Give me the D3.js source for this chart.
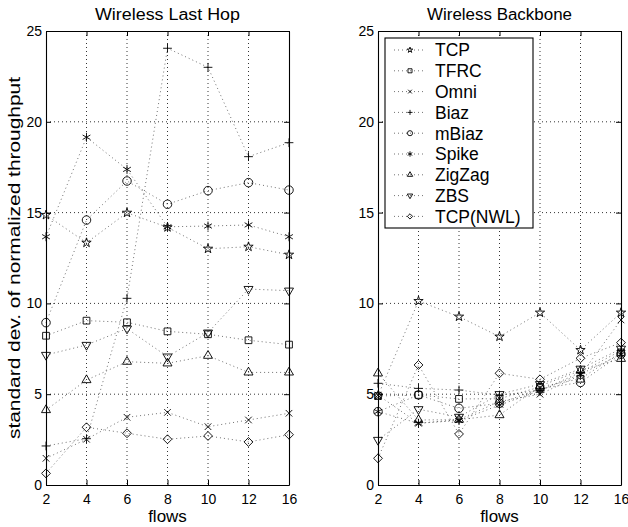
<!DOCTYPE html>
<html>
<head>
<meta charset="utf-8">
<script src="https://cdn.jsdelivr.net/npm/d3@7"></script>
<style>
  html, body { margin: 0; padding: 0; background: #fff; }
  svg { display: block; font-family: "Liberation Sans", Arial, Helvetica, sans-serif; }
</style>
</head>
<body>
<svg id="chart" width="628" height="527"></svg>
<script>
// Number of flows (x categories) and y-axis ticks
const flows = ["2", "4", "6", "8", "10", "12", "16"];
const yTicks = [0, 5, 10, 15, 20, 25];
const seriesNames = ["TCP", "TFRC", "Omni", "Biaz", "mBiaz", "Spike", "ZigZag", "ZBS", "TCP(NWL)"];

// Standard deviation of normalized throughput — wireless last hop
const lastHopTCP    = [14.87, 13.34, 14.99, 14.19, 13.01, 13.12, 12.68];
const lastHopTFRC   = [8.22, 9.05, 8.96, 8.46, 8.30, 7.97, 7.73];
const lastHopOmni   = [1.47, 2.52, 3.73, 4.00, 3.21, 3.58, 3.95];
const lastHopBiaz   = [2.15, 2.55, 10.28, 24.05, 23.00, 18.08, 18.85];
const lastHopMBiaz  = [8.94, 14.59, 16.74, 15.46, 16.21, 16.65, 16.24];
const lastHopSpike  = [13.67, 19.15, 17.38, 14.22, 14.26, 14.32, 13.67];
const lastHopZigZag = [4.13, 5.78, 6.79, 6.70, 7.12, 6.20, 6.20];
const lastHopZBS    = [7.16, 7.71, 8.61, 7.07, 8.39, 10.79, 10.70];
const lastHopNWL    = [0.64, 3.18, 2.85, 2.52, 2.70, 2.37, 2.77];

// Standard deviation of normalized throughput — wireless backbone
const backboneTCP    = [4.92, 10.13, 9.27, 8.17, 9.49, 7.43, 9.49];
const backboneTFRC   = [4.90, 4.96, 4.74, 4.75, 5.40, 5.85, 7.30];
const backboneOmni   = [4.95, 3.40, 3.60, 4.60, 5.00, 6.05, 9.09];
const backboneBiaz   = [5.60, 5.32, 5.23, 4.95, 5.20, 6.20, 7.40];
const backboneMBiaz  = [4.04, 4.96, 4.22, 4.50, 5.30, 5.65, 7.20];
const backboneSpike  = [4.04, 3.40, 3.55, 4.40, 5.20, 6.10, 7.20];
const backboneZigZag = [6.15, 3.58, 3.60, 3.85, 5.45, 6.30, 6.95];
const backboneZBS    = [2.48, 4.17, 3.75, 5.00, 5.55, 6.40, 7.50];
const backboneNWL    = [1.47, 6.61, 2.81, 6.15, 5.82, 6.98, 7.84];

// Marker shape for each series (order matches seriesNames)
const markerShapes = [
  { type: d3.symbolStar,      size: 27, rotate: 0 },
  { type: d3.symbolSquare2,   size: 58, rotate: 0 },
  { type: d3.symbolTimes,     size: 30, rotate: 0 },
  { type: d3.symbolPlus,      size: 27, rotate: 0 },
  { type: d3.symbolCircle,    size: 57, rotate: 0 },
  { type: d3.symbolAsterisk,  size: 56, rotate: 0 },
  { type: d3.symbolTriangle2, size: 58, rotate: 0 },
  { type: d3.symbolTriangle2, size: 58, rotate: 180 },
  { type: d3.symbolDiamond2,  size: 50, rotate: 0 }
];

const panels = [
  {
    title: "Wireless Last Hop", left: 46, right: 289,
    series: [lastHopTCP, lastHopTFRC, lastHopOmni, lastHopBiaz, lastHopMBiaz,
             lastHopSpike, lastHopZigZag, lastHopZBS, lastHopNWL]
  },
  {
    title: "Wireless Backbone", left: 378, right: 621,
    series: [backboneTCP, backboneTFRC, backboneOmni, backboneBiaz, backboneMBiaz,
             backboneSpike, backboneZigZag, backboneZBS, backboneNWL],
    legend: true
  }
];

const plotTop = 31, plotBottom = 485;
const svg = d3.select("#chart");

function markerPath(i, scale) {
  const m = markerShapes[i];
  return d3.symbol().type(m.type).size(m.size * scale * scale)();
}

panels.forEach(p => {
  const x = d3.scalePoint().domain(flows).range([p.left, p.right]).padding(0);
  const y = d3.scaleLinear().domain([0, 25]).range([plotBottom, plotTop]);
  const g = svg.append("g");

  // dotted grid
  const grid = g.append("g").attr("stroke", "#000").attr("stroke-width", 0.8)
    .attr("stroke-dasharray", "1,3");
  grid.selectAll("line.v").data(flows.slice(1, -1)).join("line").attr("class", "v")
    .attr("x1", d => x(d)).attr("x2", d => x(d))
    .attr("y1", plotTop).attr("y2", plotBottom);
  grid.selectAll("line.h").data(yTicks.slice(1, -1)).join("line").attr("class", "h")
    .attr("x1", p.left).attr("x2", p.right)
    .attr("y1", d => y(d)).attr("y2", d => y(d));

  // series lines
  const line = d3.line().x((d, i) => x(flows[i])).y(d => y(d));
  g.append("g").selectAll("path").data(p.series).join("path")
    .attr("d", d => line(d))
    .attr("fill", "none").attr("stroke", "#000").attr("stroke-width", 0.8)
    .attr("stroke-dasharray", "1,3").attr("stroke-opacity", 0.7);

  // markers
  p.series.forEach((vals, si) => {
    const m = markerShapes[si];
    g.append("g").selectAll("path").data(vals).join("path")
      .attr("d", markerPath(si, 1))
      .attr("transform", (d, i) => `translate(${x(flows[i])},${y(d)}) rotate(${m.rotate})`)
      .attr("fill", "none").attr("stroke", "#000").attr("stroke-width", 0.9);
  });

  // axes with inward ticks on all four sides
  const fontTick = 14;
  const axL = g.append("g").attr("transform", `translate(${p.left},0)`)
    .call(d3.axisLeft(y).tickValues(yTicks).tickSizeInner(-5).tickSizeOuter(0).tickPadding(4));
  const axB = g.append("g").attr("transform", `translate(0,${plotBottom})`)
    .call(d3.axisBottom(x).tickSizeInner(-5).tickSizeOuter(0).tickPadding(9));
  g.append("g").attr("transform", `translate(${p.right},0)`)
    .call(d3.axisRight(y).tickValues(yTicks).tickSizeInner(-5).tickSizeOuter(0).tickFormat(""));
  g.append("g").attr("transform", `translate(0,${plotTop})`)
    .call(d3.axisTop(x).tickSizeInner(-5).tickSizeOuter(0).tickFormat(""));
  g.selectAll(".domain").attr("stroke", "#000").attr("stroke-width", 1.1);
  g.selectAll(".tick line").attr("stroke", "#000");
  [axL, axB].forEach(a => a.selectAll("text")
    .attr("font-size", fontTick).attr("fill", "#000")
    .attr("font-family", "Liberation Sans, Arial, sans-serif"));

  // title and x label
  g.append("text").attr("x", (p.left + p.right) / 2).attr("y", 19.5)
    .attr("text-anchor", "middle").attr("font-size", 16)
    .attr("textLength", 145).attr("lengthAdjust", "spacingAndGlyphs")
    .text(p.title);
  g.append("text").attr("x", (p.left + p.right) / 2).attr("y", 521.5)
    .attr("text-anchor", "middle").attr("font-size", 17).text("flows");

  if (p.legend) {
    const lx = 385, ly = 38, lw = 148, lh = 190, row = 20.8;
    const lg = g.append("g");
    lg.append("rect").attr("x", lx).attr("y", ly).attr("width", lw).attr("height", lh)
      .attr("fill", "#fff").attr("stroke", "#000").attr("stroke-width", 1.1);
    const items = lg.selectAll("g.item").data(seriesNames).join("g").attr("class", "item")
      .attr("transform", (d, i) => `translate(0,${ly + 12 + i * row})`);
    items.append("line").attr("x1", lx + 9).attr("x2", lx + 41).attr("y1", 0).attr("y2", 0)
      .attr("stroke", "#000").attr("stroke-width", 0.8).attr("stroke-dasharray", "1,3")
      .attr("stroke-opacity", 0.7);
    items.append("path")
      .attr("d", (d, i) => markerPath(i, 0.6))
      .attr("transform", (d, i) => `translate(${lx + 25},0) rotate(${markerShapes[i].rotate})`)
      .attr("fill", "none").attr("stroke", "#000").attr("stroke-width", 0.9);
    items.append("text").attr("x", lx + 50).attr("y", 0).attr("dy", "0.36em")
      .attr("font-size", 17.5).text(d => d);
  }
});

// shared y-axis label
svg.append("text")
  .attr("transform", `translate(20,${(plotTop + plotBottom) / 2}) rotate(-90)`)
  .attr("text-anchor", "middle").attr("font-size", 16)
  .attr("textLength", 362).attr("lengthAdjust", "spacingAndGlyphs")
  .text("standard dev. of normalized throughput");
</script>
</body>
</html>
